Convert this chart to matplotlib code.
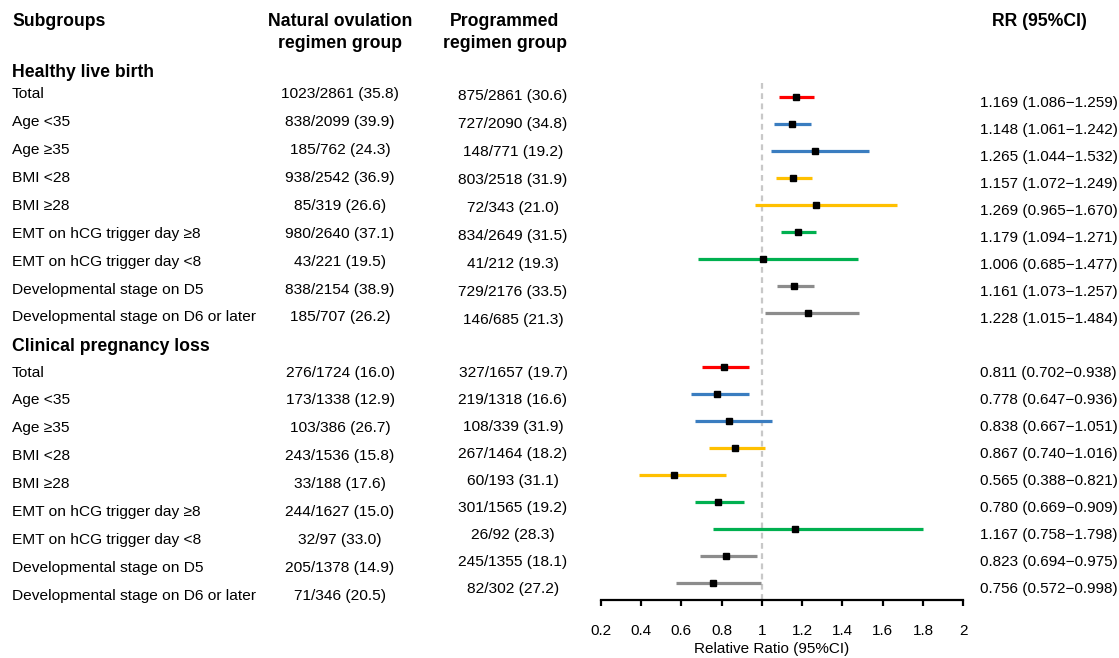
import matplotlib
matplotlib.use("Agg")
import matplotlib.pyplot as plt

plt.rcParams['font.family'] = ['Liberation Sans', 'DejaVu Sans']

# ---- data ----
subgroups = ["Total", "Age <35", "Age \u226535", "BMI <28", "BMI \u226528",
             "EMT on hCG trigger day \u22658", "EMT on hCG trigger day <8",
             "Developmental stage on D5", "Developmental stage on D6 or later"]
sub_colors = ["#FF0000", "#3A7DC0", "#3A7DC0", "#FFC000", "#FFC000",
              "#00B050", "#00B050", "#8C8C8C", "#8C8C8C"]

hlb_natural = ["1023/2861 (35.8)", "838/2099 (39.9)", "185/762 (24.3)", "938/2542 (36.9)",
               "85/319 (26.6)", "980/2640 (37.1)", "43/221 (19.5)", "838/2154 (38.9)",
               "185/707 (26.2)"]
hlb_programmed = ["875/2861 (30.6)", "727/2090 (34.8)", "148/771 (19.2)", "803/2518 (31.9)",
                  "72/343 (21.0)", "834/2649 (31.5)", "41/212 (19.3)", "729/2176 (33.5)",
                  "146/685 (21.3)"]
hlb_rr = [1.169, 1.148, 1.265, 1.157, 1.269, 1.179, 1.006, 1.161, 1.228]
hlb_lo = [1.086, 1.061, 1.044, 1.072, 0.965, 1.094, 0.685, 1.073, 1.015]
hlb_hi = [1.259, 1.242, 1.532, 1.249, 1.670, 1.271, 1.477, 1.257, 1.484]

cpl_natural = ["276/1724 (16.0)", "173/1338 (12.9)", "103/386 (26.7)", "243/1536 (15.8)",
               "33/188 (17.6)", "244/1627 (15.0)", "32/97 (33.0)", "205/1378 (14.9)",
               "71/346 (20.5)"]
cpl_programmed = ["327/1657 (19.7)", "219/1318 (16.6)", "108/339 (31.9)", "267/1464 (18.2)",
                  "60/193 (31.1)", "301/1565 (19.2)", "26/92 (28.3)", "245/1355 (18.1)",
                  "82/302 (27.2)"]
cpl_rr = [0.811, 0.778, 0.838, 0.867, 0.565, 0.780, 1.167, 0.823, 0.756]
cpl_lo = [0.702, 0.647, 0.667, 0.740, 0.388, 0.669, 0.758, 0.694, 0.572]
cpl_hi = [0.938, 0.936, 1.051, 1.016, 0.821, 0.909, 1.798, 0.975, 0.998]

xticks = [0.2, 0.4, 0.6, 0.8, 1, 1.2, 1.4, 1.6, 1.8, 2]
xticklabels = ["0.2", "0.4", "0.6", "0.8", "1", "1.2", "1.4", "1.6", "1.8", "2"]

# ---- layout (pixels) ----
W, H = 1119, 658
fig = plt.figure(figsize=(W / 100, H / 100), dpi=100)

def put(x, y, s, size=11.15, bold=False, ha='left'):
    # y is the visual middle of the capitals, in pixels from the top
    half = (size / 72 * 100) * 0.716 / 2
    fig.text(x / W, 1 - (y + half) / H, s, fontsize=size,
             fontweight='bold' if bold else 'normal', ha=ha, va='baseline')

HS = 12.7
put(12, 20, "Subgroups", HS, True)
put(340, 20, "Natural ovulation", HS, True, 'center')
put(340, 42, "regimen group", HS, True, 'center')
put(505, 20, "Programmed", HS, True, 'center')
put(505, 42, "regimen group", HS, True, 'center')
put(1039, 20, "RR (95%CI)", HS, True, 'center')

put(12, 71, "Healthy live birth", HS, True)
put(12, 345, "Clinical pregnancy loss", HS, True)

for i in range(len(subgroups)):
    put(12, 92.7 + 27.9 * i, subgroups[i])
    put(340, 92.7 + 27.9 * i, hlb_natural[i], ha='center')
    put(513, 94.3 + 28.0 * i, hlb_programmed[i], ha='center')
    put(12, 371 + 27.9 * i, subgroups[i])
    put(340, 371 + 27.9 * i, cpl_natural[i], ha='center')
    put(513, 371.7 + 27.0 * i, cpl_programmed[i], ha='center')

# forest axes: x 0.2..2 -> px 600.7..963.3, rows every 27 px starting at 97.3
ax_l, ax_r = 600.7, 963.3
ax_top, ax_bot = 70, 600
ax = fig.add_axes([ax_l / W, 1 - ax_bot / H, (ax_r - ax_l) / W, (ax_bot - ax_top) / H])
ax.set_xlim(0.2, 2)
ax.set_ylim((ax_bot - 97.3) / 27, (ax_top - 97.3) / 27)

ax.vlines(1, (83.3 - 97.3) / 27, (ax_bot - 97.3) / 27, color='#C8C8C8', lw=1.6,
          linestyles=(0, (2.6, 2.0)), zorder=1)

for sec, (rr, lo, hi) in enumerate([(hlb_rr, hlb_lo, hlb_hi), (cpl_rr, cpl_lo, cpl_hi)]):
    for i in range(len(rr)):
        k = sec * 10 + i
        ax.hlines(k, lo[i], hi[i], color=sub_colors[i], lw=2.3, zorder=2)
        ax.plot(rr[i], k, 's', color='black', ms=3.8, zorder=3)
        # RR text, slightly below the line as in the original
        put(980.5, 97.3 + 27 * k + 4.5, f"{rr[i]:.3f} ({lo[i]:.3f}\u2212{hi[i]:.3f})", 11)

for s in ['top', 'left', 'right']:
    ax.spines[s].set_visible(False)
ax.spines['bottom'].set_linewidth(1.6)
ax.set_yticks([])
ax.set_xticks(xticks)
ax.set_xticklabels(xticklabels, fontsize=11)
ax.tick_params(axis='x', length=4.5, width=1.6, pad=13)
ax.patch.set_visible(False)

ax.set_xlabel("Relative Ratio (95%CI)", fontsize=11, va='center')
ax.xaxis.set_label_coords((771.7 - ax_l) / (ax_r - ax_l), -(649.5 - ax_bot) / (ax_bot - ax_top))

fig.savefig("out.png", dpi=100)
